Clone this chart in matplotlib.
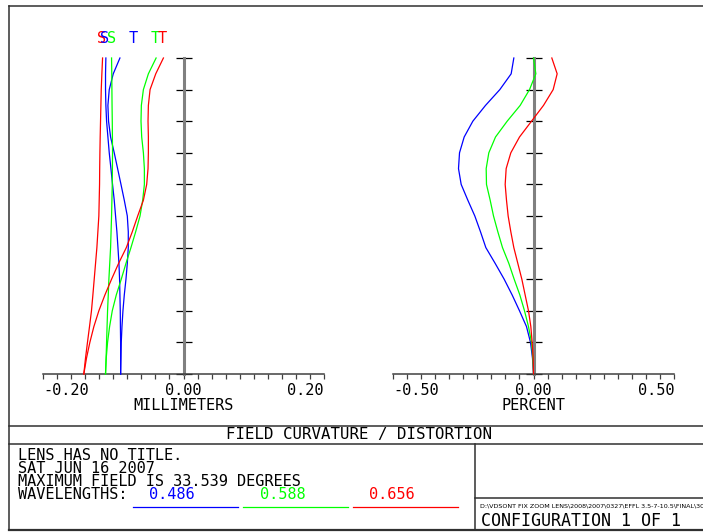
import numpy as np
import matplotlib
matplotlib.use('Agg')
import matplotlib.pyplot as plt
from matplotlib.transforms import blended_transform_factory

# ---------------- data ----------------
field = [1.00, 0.95, 0.90, 0.85, 0.80, 0.75, 0.70, 0.65, 0.60, 0.55, 0.50,
         0.45, 0.40, 0.35, 0.30, 0.25, 0.20, 0.15, 0.10, 0.05, 0.00]

# field curvature (millimeters)
fc_blue_s = [-0.1105, -0.1110, -0.1110, -0.1105, -0.1095, -0.1076, -0.1057, -0.1033, -0.1010, -0.0986, -0.0967,
             -0.0948, -0.0933, -0.0919, -0.0910, -0.0905, -0.0900, -0.0898, -0.0895, -0.0895, -0.0895]
fc_blue_t = [-0.0905, -0.1000, -0.1057, -0.1076, -0.1067, -0.1038, -0.0986, -0.0938, -0.0890, -0.0843, -0.0800,
             -0.0786, -0.0786, -0.0800, -0.0819, -0.0843, -0.0862, -0.0876, -0.0886, -0.0890, -0.0895]
fc_green_s = [-0.1024, -0.1021, -0.1019, -0.1017, -0.1014, -0.1012, -0.1010, -0.1012, -0.1014, -0.1019, -0.1024,
              -0.1031, -0.1038, -0.1050, -0.1062, -0.1071, -0.1081, -0.1088, -0.1095, -0.1102, -0.1110]
fc_green_t = [-0.0390, -0.0500, -0.0571, -0.0600, -0.0605, -0.0595, -0.0571, -0.0557, -0.0557, -0.0581, -0.0619,
              -0.0681, -0.0748, -0.0819, -0.0886, -0.0957, -0.1014, -0.1052, -0.1081, -0.1100, -0.1110]
fc_red_s = [-0.1152, -0.1162, -0.1171, -0.1176, -0.1181, -0.1186, -0.1190, -0.1193, -0.1195, -0.1200, -0.1205,
            -0.1219, -0.1233, -0.1252, -0.1271, -0.1290, -0.1310, -0.1338, -0.1367, -0.1395, -0.1419]
fc_red_t = [-0.0286, -0.0395, -0.0476, -0.0500, -0.0505, -0.0500, -0.0500, -0.0505, -0.0524, -0.0571, -0.0652,
            -0.0729, -0.0814, -0.0924, -0.1024, -0.1119, -0.1205, -0.1276, -0.1333, -0.1381, -0.1419]

# distortion (percent)
dist_blue = [-0.0700, -0.0795, -0.1198, -0.1708, -0.2159, -0.2467, -0.2633, -0.2669, -0.2574, -0.2337, -0.2088,
             -0.1886, -0.1696, -0.1364, -0.1044, -0.0759, -0.0498, -0.0249, -0.0107, -0.0036, 0.0]
dist_green = [0.0, 0.0083, -0.0142, -0.0474, -0.0937, -0.1352, -0.1590, -0.1684, -0.1673, -0.1542, -0.1423,
              -0.1269, -0.1103, -0.0878, -0.0688, -0.0486, -0.0320, -0.0178, -0.0071, -0.0024, 0.0]
dist_red = [0.0652, 0.0842, 0.0700, 0.0356, -0.0071, -0.0498, -0.0807, -0.0973, -0.1008, -0.0961, -0.0902,
            -0.0807, -0.0700, -0.0558, -0.0415, -0.0297, -0.0178, -0.0095, -0.0047, -0.0012, 0.0]

wavelengths = ['0.486', '0.588', '0.656']
mm_labels = [-0.20, 0.00, 0.20]
pct_labels = [-0.50, 0.00, 0.50]
curve_labels = ['S', 'S', 'S', 'T', 'T', 'T']

BLUE, GREEN, RED = '#0000ff', '#00ff00', '#ff0000'
FONT = 'DejaVu Sans Mono'

W, H = 703, 532
fig = plt.figure(figsize=(W / 100, H / 100), dpi=100)
fig.patch.set_facecolor('white')


def rect(x0, y0, x1, y1):
    return [x0 / W, 1 - y1 / H, (x1 - x0) / W, (y1 - y0) / H]


AX_TOP, AX_BOT = 58, 374


def ay(py):
    return (AX_BOT - py) / (AX_BOT - AX_TOP)


def style(ax, lim, labels, title):
    ax.set_xlim(-lim, lim)
    ax.set_ylim(0, 1)
    ax.patch.set_visible(False)
    ax.spines['top'].set_visible(False)
    ax.spines['right'].set_visible(False)
    ax.spines['bottom'].set_color('#404040')
    ax.spines['bottom'].set_linewidth(1.1)
    ax.spines['left'].set_position(('data', 0))
    ax.spines['left'].set_color('#808080')
    ax.spines['left'].set_linewidth(2.2)
    ax.set_xticks(np.linspace(-lim, lim, 21))
    ax.tick_params(axis='x', direction='out', length=3.3, width=0.9,
                   color='#404040', labelbottom=False)
    ax.set_yticks(np.linspace(0, 1, 11))
    ax.tick_params(axis='y', direction='inout', length=11.5, width=0.9,
                   color='black', labelleft=False)
    tr = blended_transform_factory(ax.transData, ax.transAxes)
    has = ['left', 'center', 'right']
    for v, ha in zip(labels, has):
        ax.text(v, ay(395), f"{v:.2f}", transform=tr, ha=ha, va='baseline',
                family=FONT, fontsize=11, color='black')
    ax.text(0, ay(410), title, transform=tr, ha='center', va='baseline',
            family=FONT, fontsize=11, color='black')


ax1 = fig.add_axes(rect(43, AX_TOP, 324, AX_BOT))
style(ax1, 0.2, mm_labels, 'MILLIMETERS')
ax1.plot(fc_blue_s, field, color=BLUE, lw=0.9, zorder=3, clip_on=False)
ax1.plot(fc_blue_t, field, color=BLUE, lw=0.9, zorder=3, clip_on=False)
ax1.plot(fc_green_s, field, color=GREEN, lw=0.9, zorder=3, clip_on=False)
ax1.plot(fc_green_t, field, color=GREEN, lw=0.9, zorder=3, clip_on=False)
ax1.plot(fc_red_s, field, color=RED, lw=0.9, zorder=3, clip_on=False)
ax1.plot(fc_red_t, field, color=RED, lw=0.9, zorder=3, clip_on=False)

# S / T labels above the curves
tr1 = blended_transform_factory(ax1.transData, ax1.transAxes)
label_x = [-0.1164, -0.1121, -0.1021, -0.0721, -0.0407, -0.0307]
label_c = [RED, BLUE, GREEN, BLUE, GREEN, RED]
for lx, lc, lt in zip(label_x, label_c, curve_labels):
    ax1.text(lx, ay(43), lt, transform=tr1, ha='center', va='baseline',
             family=FONT, fontsize=11, color=lc)

ax2 = fig.add_axes(rect(393, AX_TOP, 674, AX_BOT))
style(ax2, 0.5, pct_labels, 'PERCENT')
ax2.plot(dist_blue, field, color=BLUE, lw=0.9, zorder=3, clip_on=False)
ax2.plot(dist_green, field, color=GREEN, lw=0.9, zorder=3, clip_on=False)
ax2.plot(dist_red, field, color=RED, lw=0.9, zorder=3, clip_on=False)

# ---------------- frame / text block ----------------
ov = fig.add_axes([0, 0, 1, 1])
ov.set_xlim(0, W)
ov.set_ylim(H, 0)
ov.axis('off')
FR = '#303030'
ov.plot([9, W + 5], [6, 6], color=FR, lw=1.1)
ov.plot([9, 9], [6, 530], color=FR, lw=1.1)
ov.plot([9, W + 5], [426, 426], color=FR, lw=1.1)
ov.plot([9, W + 5], [443.5, 443.5], color=FR, lw=1.1)
ov.plot([9, W + 5], [530, 530], color=FR, lw=1.6)
ov.plot([475, 475], [443.5, 530], color=FR, lw=1.1)
ov.plot([475, W + 5], [497.5, 497.5], color=FR, lw=1.1)

ov.text(359, 439.5, 'FIELD CURVATURE / DISTORTION', ha='center', va='baseline',
        family=FONT, fontsize=11.3, color='black')

lines = ['LENS HAS NO TITLE.', 'SAT JUN 16 2007',
         'MAXIMUM FIELD IS 33.539 DEGREES', 'WAVELENGTHS:']
for i, t in enumerate(lines):
    ov.text(18, 459.5 + i * 13.2, t, ha='left', va='baseline',
            family=FONT, fontsize=11, color='black')

wl_colors = [BLUE, GREEN, RED]
wl_cx = [172, 283, 392]
wl_line = [(133, 238), (243, 348), (353, 458)]
for t, c, cx, (lx0, lx1) in zip(wavelengths, wl_colors, wl_cx, wl_line):
    ov.text(cx, 499, t, ha='center', va='baseline', family=FONT,
            fontsize=11, color=c)
    ov.plot([lx0, lx1], [507, 507], color=c, lw=0.9)

ov.text(480, 507, r'D:\VDSONT FIX ZOOM LENS\2008\2007\0327\EFFL 3.5-7-10.5\FINAL\3008S0P-CON1-0-5.ZMX',
        ha='left', va='baseline', family=['Liberation Sans Narrow', 'DejaVu Sans'],
        fontsize=4.6, color='black', clip_on=True)
ov.text(481, 526, 'CONFIGURATION 1 OF 1', ha='left', va='baseline',
        family=FONT, fontsize=12, color='black')

fig.savefig('out.png', dpi=100, facecolor='white')
